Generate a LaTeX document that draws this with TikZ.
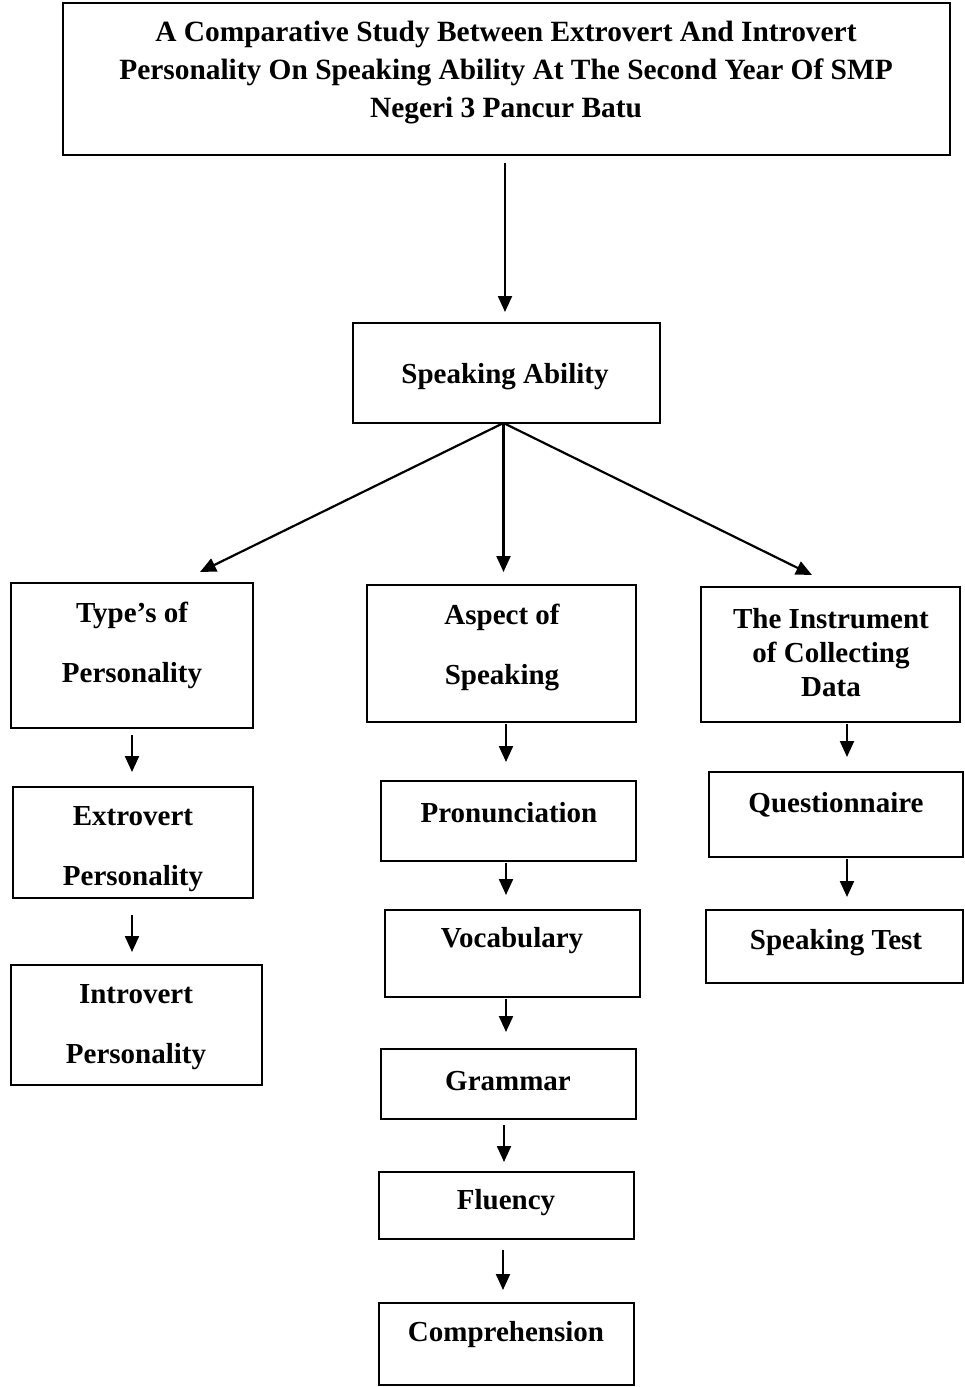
\documentclass[tikz,border=0pt]{standalone}
\usepackage{fontspec}
\setmainfont{Liberation Serif}
\usetikzlibrary{arrows.meta}
\begin{document}
\begin{tikzpicture}[x=1pt,y=-1pt,
  box/.style={draw, line width=1.8pt, inner sep=0pt, outer sep=0pt},
  txt/.style={inner sep=0pt, align=center, yshift=-3pt, font=\bfseries\fontsize{29}{60}\selectfont},
  arr/.style={line width=2.2pt, -{Triangle[length=16pt,width=14pt]}},
  ln/.style={line width=2.2pt}]
\useasboundingbox (0,0) rectangle (965,1387);
% boxes
\node[box, line width=2.2pt, minimum width=887pt, minimum height=152pt] (title) at (506.5,79) {};
\node[txt, font=\bfseries\fontsize{29.4}{38}\selectfont] (title-t) at (506,70) {A Comparative Study Between Extrovert And Introvert\\Personality On Speaking Ability At The Second Year Of SMP\\Negeri 3 Pancur Batu};
\node[box, minimum width=307pt, minimum height=100pt] (sa) at (506.5,373) {};
\node[txt] (sa-t) at (505,374) {Speaking Ability};
\node[box, minimum width=242pt, minimum height=145pt] (tp) at (132,655.5) {};
\node[txt] (tp-t) at (132,642) {Type’s of\\Personality};
\node[box, minimum width=240pt, minimum height=111pt] (ex) at (133,842.5) {};
\node[txt] (ex-t) at (133,846) {Extrovert\\Personality};
\node[box, minimum width=251pt, minimum height=120pt] (in) at (136.5,1025) {};
\node[txt] (in-t) at (136,1024) {Introvert\\Personality};
\node[box, minimum width=269pt, minimum height=137pt] (asp) at (501.5,653.5) {};
\node[txt] (asp-t) at (502,644) {Aspect of\\Speaking};
\node[box, minimum width=255pt, minimum height=80pt] (pro) at (508.5,821) {};
\node[txt] (pro-t) at (509,810) {Pronunciation};
\node[box, minimum width=255pt, minimum height=87pt] (voc) at (512.5,953.5) {};
\node[txt] (voc-t) at (512,938) {Vocabulary};
\node[box, minimum width=255pt, minimum height=70pt] (gra) at (508.5,1084) {};
\node[txt] (gra-t) at (508,1078) {Grammar};
\node[box, minimum width=255pt, minimum height=67pt] (flu) at (506.5,1205.5) {};
\node[txt] (flu-t) at (506,1200) {Fluency};
\node[box, minimum width=255pt, minimum height=82pt] (com) at (506.5,1344) {};
\node[txt] (com-t) at (506,1332) {Comprehension};
\node[box, minimum width=259pt, minimum height=135pt] (ins) at (830.5,654.5) {};
\node[txt, font=\bfseries\fontsize{29}{34}\selectfont] (ins-t) at (831,650) {The Instrument\\of Collecting\\Data};
\node[box, minimum width=254pt, minimum height=85pt] (que) at (836,814.5) {};
\node[txt] (que-t) at (836,802) {Questionnaire};
\node[box, minimum width=257pt, minimum height=73pt] (spt) at (834.5,946.5) {};
\node[txt] (spt-t) at (836,940) {Speaking Test};
% connectors
\coordinate (brO) at ([xshift=-3pt]sa.south);
\coordinate (brL) at (200,572);
\coordinate (brM) at (503.5,572);
\coordinate (brR) at (812,575);
\draw[arr, shorten <=8pt, shorten >=11pt] ([xshift=-1.5pt]title.south -| sa.north) -- ([xshift=-1.5pt]sa.north);
\draw[arr] (brO) -- (brL);
\draw[arr] (brO) -- (brM);
\draw[arr] (brO) -- (brR);
\draw[arr, shorten <=7pt, shorten >=15pt] (tp.south) -- (tp.south |- ex.north);
\draw[arr, shorten <=17pt, shorten >=13pt] (ex.south -| tp.south) -- (tp.south |- in.north);
\draw[arr, shorten <=2pt, shorten >=19pt] ([xshift=4.5pt]asp.south) -- ([xshift=4.5pt]asp.south |- pro.north);
\draw[arr, shorten <=2pt, shorten >=15pt] ([xshift=-2.5pt]pro.south) -- ([xshift=-2.5pt]pro.south |- voc.north);
\draw[arr, shorten <=2pt, shorten >=17pt] ([xshift=-6.5pt]voc.south) -- ([xshift=-6.5pt]voc.south |- gra.north);
\draw[arr, shorten <=6pt, shorten >=10pt] ([xshift=-4.5pt]gra.south) -- ([xshift=-4.5pt]gra.south |- flu.north);
\draw[arr, shorten <=11pt, shorten >=13pt] ([xshift=-3.5pt]flu.south) -- ([xshift=-3.5pt]flu.south |- com.north);
\draw[arr, shorten <=2pt, shorten >=15pt] ([xshift=16.5pt]ins.south) -- ([xshift=16.5pt]ins.south |- que.north);
\draw[arr, shorten <=2pt, shorten >=13pt] ([xshift=11pt]que.south) -- ([xshift=11pt]que.south |- spt.north);
\end{tikzpicture}
\end{document}
